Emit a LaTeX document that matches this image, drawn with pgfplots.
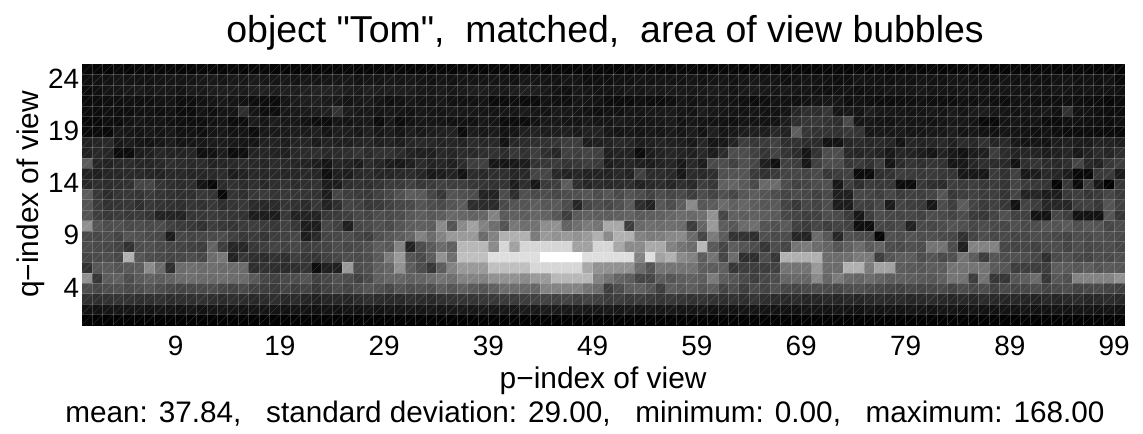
\documentclass[border=0pt]{standalone}
\usepackage{pgfplots}
\usepackage{pgfplotstable}
\usepackage{fontspec}
\setmainfont{Liberation Sans}
\newfontfamily\qf{Liberation Sans}
\pgfplotsset{compat=1.18}
\pgfplotstableread[header=false]{
4 4 3 5 4 5 4 5 5 4  4 5 4 4 5 4 5 5 4 4  4 5 4 4 5 5 4 4 5 4  5 4 4 4 5 4 5 4 4 5  5 4 5 5 4 5 4 4 5 4  3 4 4 5 5 4 4 5 5 4  4 5 5 4 4 5 4 5 5 4  4 4 5 4 5 4 5 4 4 5  4 5 4 4 5 5 5 4 4 5  4 5 5 4 4 5 4 4 3 3
9 11 12 14 13 12 12 13 14 13  14 15 16 14 16 15 17 15 14 16  13 15 13 14 15 15 12 14 13 15  14 15 13 12 14 12 13 14 13 14  13 12 15 14 13 11 14 13 9 10  10 12 11 13 12 13 13 12 14 12  13 14 12 14 15 13 13 10 12 13  12 11 9 10 13 12 11 10 12 11  13 12 11 14 13 12 12 11 13 11  12 11 10 12 13 11 12 10 12 7
8 10 13 14 15 17 14 16 15 13  17 16 18 19 18 17 20 21 19 20  19 20 22 23 21 18 17 20 18 19  19 18 16 15 17 15 17 19 18 17  16 18 20 19 16 12 10 15 14 12  12 14 16 14 17 15 17 16 15 16  17 16 13 16 17 16 14 16 14 13  11 10 11 12 10 11 12 14 13 14  15 13 14 13 14 15 13 14 14 13  12 13 12 14 13 12 13 11 12 11
7 8 9 10 11 9 10 12 13 9  9 12 14 16 14 12 9 8 8 14  17 19 20 17 16 13 15 17 14 10  12 15 13 13 15 12 11 12 13 7  7 9 7 7 12 10 9 14 13 12  8 7 7 10 8 8 10 14 12 13  14 13 12 10 8 9 12 11 10 12  13 15 14 9 12 9 8 8 9 10  11 10 9 9 11 10 12 10 9 11  12 10 9 9 10 9 8 8 5 8
8 8 10 9 9 11 11 10 12 8  8 13 10 13 14 30 14 9 9 15  16 17 18 20 34 18 15 16 14 15  14 12 15 14 13 16 15 15 14 13  14 14 17 14 12 16 15 13 12 10  12 11 14 14 16 16 17 14 13 18  15 14 13 12 14 12 12 13 25 30  30 35 14 16 13 19 15 15 14 13  14 16 13 17 14 17 18 15 14 12  13 14 16 11 33 12 12 9 8 8
5 6 9 8 12 14 12 13 11 10  9 9 12 13 8 8 17 14 18 15  15 12 8 8 14 13 15 16 7 16  8 12 15 14 13 11 12 11 15 13  7 7 8 12 16 15 13 13 16 14  14 17 15 13 14 15 17 12 15 13  12 11 10 13 12 12 12 18 30 35  36 33 30 48 14 15 13 12 15 14  14 12 14 16 15 13 6 6 13 14  12 13 7 7 11 11 10 9 8 11
6 7 6 16 14 13 15 13 16 11  12 10 14 15 12 13 8 16 16 17  18 17 20 13 19 18 16 20 15 18  14 19 16 18 20 22 8 18 15 17  12 14 20 22 18 19 20 17 21 22  15 13 15 13 16 14 17 14 18 12  20 14 16 18 20 19 26 22 62 35  33 34 32 36 34 15 16 15 17 14  14 16 15 18 13 15 12 11 14 13  12 10 12 9 8 8 8 7 7 6
22 24 26 16 18 14 12 15 18 13  14 15 17 17 16 14 14 20 22 18  22 24 17 22 20 20 23 24 20 22  19 24 26 25 22 24 22 28 25 26  12 25 28 30 32 34 40 40 18 20  22 26 24 18 20 22 20 19 16 24  14 15 22 40 35 38 42 30 32 28  28 12 12 24 28 25 26 24 12 25  22 24 26 20 28 25 32 24 27 16  12 14 12 18 20 18 17 22 22 20
22 26 24 8 8 18 20 25 22 22  24 10 12 18 8 9 22 24 22 20  26 28 30 26 28 30 34 28 32 33  28 22 20 20 26 24 28 26 30 32  28 36 32 40 30 25 42 40 44 42  20 22 22 8 18 22 25 22 20 26  18 28 50 50 42 34 44 34 28 14  33 50 50 26 24 26 22 16 24 22  18 14 22 16 12 18 20 40 28 22  24 22 18 20 24 16 22 28 24 30
60 24 22 26 28 25 24 26 30 28  26 28 22 24 26 28 26 24 28 26  24 22 18 14 24 22 18 28 24 18  16 20 28 22 24 20 28 40 42 15  14 16 18 32 36 38 34 36 40 38  18 22 24 20 18 22 24 16 26 18  48 50 42 52 46 20 10 42 40 15  42 50 50 35 38 32 40 14 28 34  30 34 32 14 16 24 30 28 26 12  30 34 28 26 30 45 26 22 36 40
22 20 24 25 27 26 24 22 26 26  24 25 27 28 18 22 26 25 26 24  24 26 24 10 20 18 26 28 24 24  26 28 24 16 18 22 12 28 26 30  30 24 26 45 45 26 22 25 22 22  22 26 22 42 28 28 26 15 28 26  30 52 54 55 38 32 38 44 46 44  48 36 40 42 8 8 30 32 40 38  36 38 36 34 15 15 15 38 32 42  16 18 26 24 18 6 6 36 38 18
26 30 28 30 32 45 45 34 30 28  30 14 5 28 32 28 30 26 30 32  28 30 32 18 18 30 32 30 34 38  38 42 36 38 42 40 40 36 34 32  34 18 30 15 38 40 60 30 24 28  26 28 30 22 26 28 24 30 26 40  36 62 65 58 48 68 70 50 42 44  50 52 15 40 30 38 36 36 8 8  36 30 28 40 38 40 36 38 34 44  38 36 34 3 36 8 40 15 2 36
60 36 28 34 36 34 38 34 32 30  30 36 34 6 34 30 36 38 34 36  34 34 32 18 45 40 38 36 42 46  52 60 58 45 35 54 52 50 22 22  50 30 52 48 50 46 50 52 55 50  55 48 54 50 42 50 45 48 40 50  44 52 46 56 60 55 50 44 48 46  42 48 20 20 46 44 40 46 38 42  40 44 55 36 40 42 38 40 34 44  22 24 18 18 36 40 34 38 45 38
55 38 32 34 36 30 36 34 32 30  34 32 36 30 34 36 28 26 28 34  32 28 36 22 30 44 42 36 38 42  46 48 55 50 48 55 60 30 28 28  48 55 55 60 56 58 50 25 46 50  46 52 60 30 22 56 50 60 90 56  60 70 62 66 60 56 58 44 36 46  44 50 18 18 42 40 46 18 44 40  38 15 50 40 60 44 38 42 36 12  44 40 25 25 25 40 42 36 55 42
55 40 36 38 36 38 34 22 22 22  34 36 38 36 34 32 18 18 18 36  22 22 22 36 38 40 46 44 50 48  50 56 60 56 60 68 66 64 66 85  58 62 60 66 64 56 40 58 62 60  60 62 64 58 60 62 66 70 68 72  95 45 62 60 62 60 58 46 44 40  42 50 48 38 15 40 50 46 44 46  42 50 48 44 50 38 36 44 52 42  42 12 12 46 40 12 12 12 55 35
95 55 50 52 48 50 48 50 42 38  36 32 40 36 34 38 40 38 36 42  36 18 18 46 42 20 46 48 52 48  55 60 62 60 90 55 90 105 85 72  55 78 72 74 92 95 65 72 80 76  110 110 40 68 72 70 72 70 40 66  100 60 56 70 72 54 52 58 42 38  45 40 44 42 10 10 46 44 48 22  48 46 50 54 52 46 50 48 46 52  48 50 55 54 58 52 56 54 46 50
48 46 50 44 54 52 48 46 18 46  44 46 48 50 42 36 38 34 40 42  46 18 26 44 46 50 44 40 52 56  60 66 85 70 85 100 100 100 70 85  115 115 115 80 100 95 100 95 100 115  90 115 115 85 80 82 88 90 70 45  80 60 33 33 30 52 48 50 24 22  70 56 25 52 50 48 3 52 50 54  50 52 48 46 32 44 50 46 48 44  46 50 48 46 44 50 48 52 50 48
50 48 46 44 33 50 52 48 46 44  42 40 65 40 25 25 36 40 44 42  46 40 42 44 50 46 48 52 60 56  85 22 50 58 70 62 120 120 120 90  140 105 140 140 140 140 140 105 105 140  140 110 90 90 110 110 85 75 70 120  58 45 60 55 50 35 50 45 75 80  70 65 55 62 70 58 65 50 48 52  50 75 75 50 20 85 85 85 46 44  46 42 48 50 44 50 46 48 50 46
46 48 50 46 115 56 50 48 44 46  50 46 70 78 22 35 30 28 32 30  40 36 34 42 46 50 48 50 58 80  100 55 48 60 95 72 125 125 125 145  145 145 145 145 168 168 168 168 145 145  145 145 145 85 145 105 115 90 85 60  75 45 70 30 30 50 35 115 115 115  115 70 70 72 80 80 40 55 60 60  50 55 48 52 75 60 40 55 50 52  50 46 30 48 52 46 44 50 48 52
32 56 58 54 58 60 90 70 30 70  72 70 72 70 70 70 30 32 30 28  30 34 8 20 20 100 50 52 62 66  95 60 50 35 60 85 100 100 100 125  125 125 125 140 140 140 140 140 110 95  95 95 95 70 55 75 75 75 75 60  60 62 35 40 40 40 42 75 75 75  100 70 70 115 115 80 105 105 60 58  56 60 60 75 75 75 75 58 56 40  40 40 40 60 58 56 60 54 58 56
95 35 60 62 50 58 62 60 64 70  72 70 70 72 70 70 58 46 42 48  50 55 42 46 52 50 42 48 62 66  66 62 65 70 75 72 85 85 85 95  95 95 90 100 100 120 120 120 120 85  75 65 60 45 45 60 55 60 62 60  80 60 55 48 40 46 50 66 68 66  90 66 80 68 66 70 65 60 62 60  58 56 62 75 75 40 75 35 35 55  60 70 35 56 52 85 85 85 85 95
50 46 50 52 48 50 54 50 46 44  46 48 50 46 44 48 42 40 38 44  40 44 36 42 48 44 50 54 52 46  54 50 52 50 60 55 62 58 55 62  70 70 68 66 85 85 85 85 75 70  40 50 60 62 55 40 60 56 60 54  60 44 50 40 48 44 52 46 44 48  50 48 46 50 52 48 46 44 42 46  44 46 48 44 50 46 50 42 48 44  46 50 44 48 50 44 46 48 44 42
32 30 32 34 32 30 30 32 28 30  30 32 30 28 30 28 26 28 30 26  28 24 20 24 26 24 28 30 28 26  26 30 28 26 30 32 34 34 36 36  38 38 40 42 44 42 44 40 44 42  38 40 36 38 36 34 36 34 32 34  32 30 32 30 34 30 28 26 28 24  24 26 24 26 24 26 28 26 28 24  26 28 26 24 26 24 28 26 24 26  24 22 26 24 26 28 24 26 28 26
12 12 14 14 13 14 12 14 13 12  14 12 13 14 13 12 14 13 14 12  13 12 10 12 11 13 12 14 12 13  13 14 14 15 14 15 16 15 16 15  16 15 17 16 18 17 16 17 16 15  16 15 16 14 15 14 15 13 14 14  12 13 12 13 14 13 12 12 11 13  13 12 14 12 11 13 12 13 12 14  13 12 14 13 12 13 12 11 13 12  14 12 11 13 12 14 13 12 13 12
1 1 1 1 1 1 1 1 1 1  1 1 1 1 1 1 1 1 1 1  1 1 1 1 1 1 1 1 1 1  1 1 1 1 1 1 1 1 1 1  1 1 1 1 1 1 1 1 1 1  1 1 1 1 1 1 1 1 1 1  1 1 1 1 1 1 1 1 1 1  1 1 1 1 1 1 1 1 1 1  1 1 1 1 1 1 1 1 1 1  1 1 1 1 1 1 1 1 1 1
}\heat
\begin{document}
\begin{tikzpicture}
\path[use as bounding box] (0,0) rectangle (1143bp,434bp);
\begin{axis}[
  at={(81.7bp,109bp)}, anchor=south west, scale only axis,
  width=1042.8bp, height=261bp,
  xmin=0, xmax=100, ymin=0, ymax=25,
  axis line style={draw=none}, tick style={draw=none}, major tick length=0pt,
  xtick={9,19,29,39,49,59,69,79,89,99},
  xticklabels={9,19,29,39,49,59,69,79,89,99},
  ytick={3.6,8.6,13.6,18.6,23.6},
  yticklabels={4,9,14,19,24},
  tick label style={font=\fontsize{28}{28}\selectfont},
  xticklabel style={yshift=-8bp},
  yticklabel style={xshift=1bp},
  colormap={bw}{gray(0cm)=(0); gray(1cm)=(1)},
  point meta min=0, point meta max=168,
  title={object {\qf"}Tom{\qf"},\ \ matched,\ \ area of view bubbles},
  title style={font=\fontsize{37.6}{38}\selectfont, yshift=4bp, xshift=2bp},
  xlabel={p−index of view},
  xlabel style={font=\fontsize{30}{30}\selectfont, yshift=-4bp},
  ylabel={q−index of view},
  ylabel style={font=\fontsize{30}{30}\selectfont, yshift=-3bp},
]
\pgfplotsinvokeforeach{0,...,99}{
  \addplot[scatter, only marks, mark=square*, mark size=5.25bp, line width=0.1bp,
    point meta=explicit, scatter/use mapped color={draw=mapped color,fill=mapped color}]
    table[x expr=#1+0.5, y expr=24.5-\coordindex, meta index=#1] {\heat};
}
\end{axis}
\begin{axis}[
  at={(81.7bp,109bp)}, anchor=south west, scale only axis,
  width=1042.8bp, height=261bp,
  xmin=0, xmax=100, ymin=0, ymax=25, hide axis,
]
\pgfplotsinvokeforeach{1,...,99}{
  \draw[white, opacity=0.2, line width=0.5bp] (axis cs:#1,0) -- (axis cs:#1,25);
}
\pgfplotsinvokeforeach{1,...,24}{
  \draw[white, opacity=0.2, line width=0.5bp] (axis cs:0,#1) -- (axis cs:100,#1);
}
\pgfplotsinvokeforeach{-25,...,99}{
  \draw[white, opacity=0.17, line width=0.4bp] (axis cs:#1,0) -- (axis cs:#1+25,25);
}
\end{axis}
\node[font=\fontsize{29.8}{30}\selectfont] at (585bp,20bp) {mean: 37.84,\ \ \ standard deviation: 29.00,\ \ \ minimum: 0.00,\ \ \ maximum: 168.00};
\end{tikzpicture}
\end{document}
